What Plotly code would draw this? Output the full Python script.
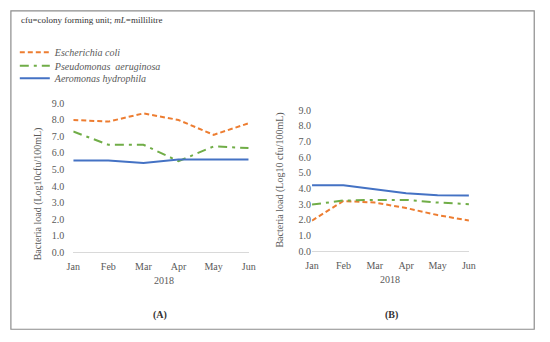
import plotly.graph_objects as go

months = ["Jan", "Feb", "Mar", "Apr", "May", "Jun"]
series_names = ["Escherichia coli", "Pseudomonas  aeruginosa", "Aeromonas hydrophila"]

# Panel A
a_ecoli = [8.0, 7.9, 8.4, 8.0, 7.1, 7.8]
a_paer = [7.3, 6.5, 6.5, 5.5, 6.4, 6.3]
a_ahyd = [5.55, 5.55, 5.4, 5.6, 5.6, 5.6]

# Panel B
b_ecoli = [1.95, 3.2, 3.1, 2.75, 2.3, 1.95]
b_paer = [2.97, 3.23, 3.27, 3.27, 3.1, 3.0]
b_ahyd = [4.2, 4.2, 3.95, 3.7, 3.56, 3.55]

yticks = [0, 1, 2, 3, 4, 5, 6, 7, 8, 9]
ytick_labels = ["0.0", "1.0", "2.0", "3.0", "4.0", "5.0", "6.0", "7.0", "8.0", "9.0"]

colors = ["#ED7D31", "#70AD47", "#4472C4"]
dashes = ["5px,3px", "9px,5px,3px,5px", "solid"]

W, H = 550, 342
FONT = "Liberation Serif"
GREY = "#595959"

def px(x):
    return x / W

def py(y):
    return 1 - y / H

fig = go.Figure()

legend_ids = ["legend", "legend2", "legend3"]
panels = [
    (a_ecoli, a_paer, a_ahyd, "x", "y"),
    (b_ecoli, b_paer, b_ahyd, "x2", "y2"),
]
for pi, (e, p, a, xa, ya) in enumerate(panels):
    for si, vals in enumerate([e, p, a]):
        fig.add_trace(go.Scatter(
            x=months, y=vals, mode="lines",
            name=series_names[si],
            line=dict(color=colors[si], width=2, dash=dashes[si]),
            showlegend=(pi == 0),
            legend=legend_ids[si],
            xaxis=xa, yaxis=ya,
        ))

axis_common = dict(showgrid=False, zeroline=False,
                   tickfont=dict(family=FONT, size=10, color=GREY))

legend_rows = [48, 62, 75]
legend_common = dict(xanchor="left", yanchor="middle",
                     font=dict(family=FONT, size=10, color=GREY, style="italic"),
                     bgcolor="rgba(0,0,0,0)", itemwidth=30)

fig.update_layout(
    width=W, height=H,
    margin=dict(l=0, r=0, t=0, b=0),
    paper_bgcolor="white", plot_bgcolor="white",
    font=dict(family=FONT, color=GREY),
    xaxis=dict(domain=[px(68), px(248)], anchor="y", showline=True,
               linecolor="#D9D9D9", linewidth=1, ticks="outside",
               ticklen=5, tickcolor="rgba(0,0,0,0)", **axis_common),
    yaxis=dict(domain=[py(255), py(101)], range=[0, 9], anchor="x",
               tickvals=yticks, ticktext=ytick_labels, showline=False,
               ticks="outside", ticklen=6, tickcolor="rgba(0,0,0,0)", **axis_common),
    xaxis2=dict(domain=[px(313), px(474)], anchor="y2", showline=True,
                linecolor="#D9D9D9", linewidth=1, ticks="outside",
                ticklen=5, tickcolor="rgba(0,0,0,0)", **axis_common),
    yaxis2=dict(domain=[py(254), py(108)], range=[0, 9], anchor="x2",
                tickvals=yticks, ticktext=ytick_labels, showline=False,
                **axis_common),
    legend=dict(x=px(8), y=py(legend_rows[0]), **legend_common),
    legend2=dict(x=px(8), y=py(legend_rows[1]), **legend_common),
    legend3=dict(x=px(8), y=py(legend_rows[2]), **legend_common),
    shapes=[dict(type="rect", xref="paper", yref="paper",
                 x0=px(4), x1=px(541), y0=py(335), y1=py(5),
                 line=dict(color="#8c8c8c", width=1.2))],
)

ann = [
    dict(text="cfu=colony forming unit; <i>mL</i>=millilitre", x=px(12), y=py(15),
         xanchor="left", yanchor="middle", font=dict(family=FONT, size=9, color="#333333")),
    dict(text="Bacteria load (Log10cfu/100mL)", x=px(32), y=py(195), textangle=-90,
         xanchor="center", yanchor="middle", font=dict(family=FONT, size=10, color=GREY)),
    dict(text="Bacteria load (Log10 cfu/100mL)", x=px(280), y=py(180), textangle=-90,
         xanchor="center", yanchor="middle", font=dict(family=FONT, size=10, color=GREY)),
    dict(text="2018", x=px(161), y=py(284), xanchor="center", yanchor="middle",
         font=dict(family=FONT, size=10, color=GREY)),
    dict(text="2018", x=px(393), y=py(283), xanchor="center", yanchor="middle",
         font=dict(family=FONT, size=10, color=GREY)),
    dict(text="<b>(A)</b>", x=px(157), y=py(320), xanchor="center", yanchor="middle",
         font=dict(family=FONT, size=10, color="#333333")),
    dict(text="<b>(B)</b>", x=px(395), y=py(320), xanchor="center", yanchor="middle",
         font=dict(family=FONT, size=10, color="#333333")),
]
for a in ann:
    a.update(xref="paper", yref="paper", showarrow=False)
fig.update_layout(annotations=ann)

fig.write_html("out.html", config={"displayModeBar": False},
               post_script="document.body.style.margin='0';")
